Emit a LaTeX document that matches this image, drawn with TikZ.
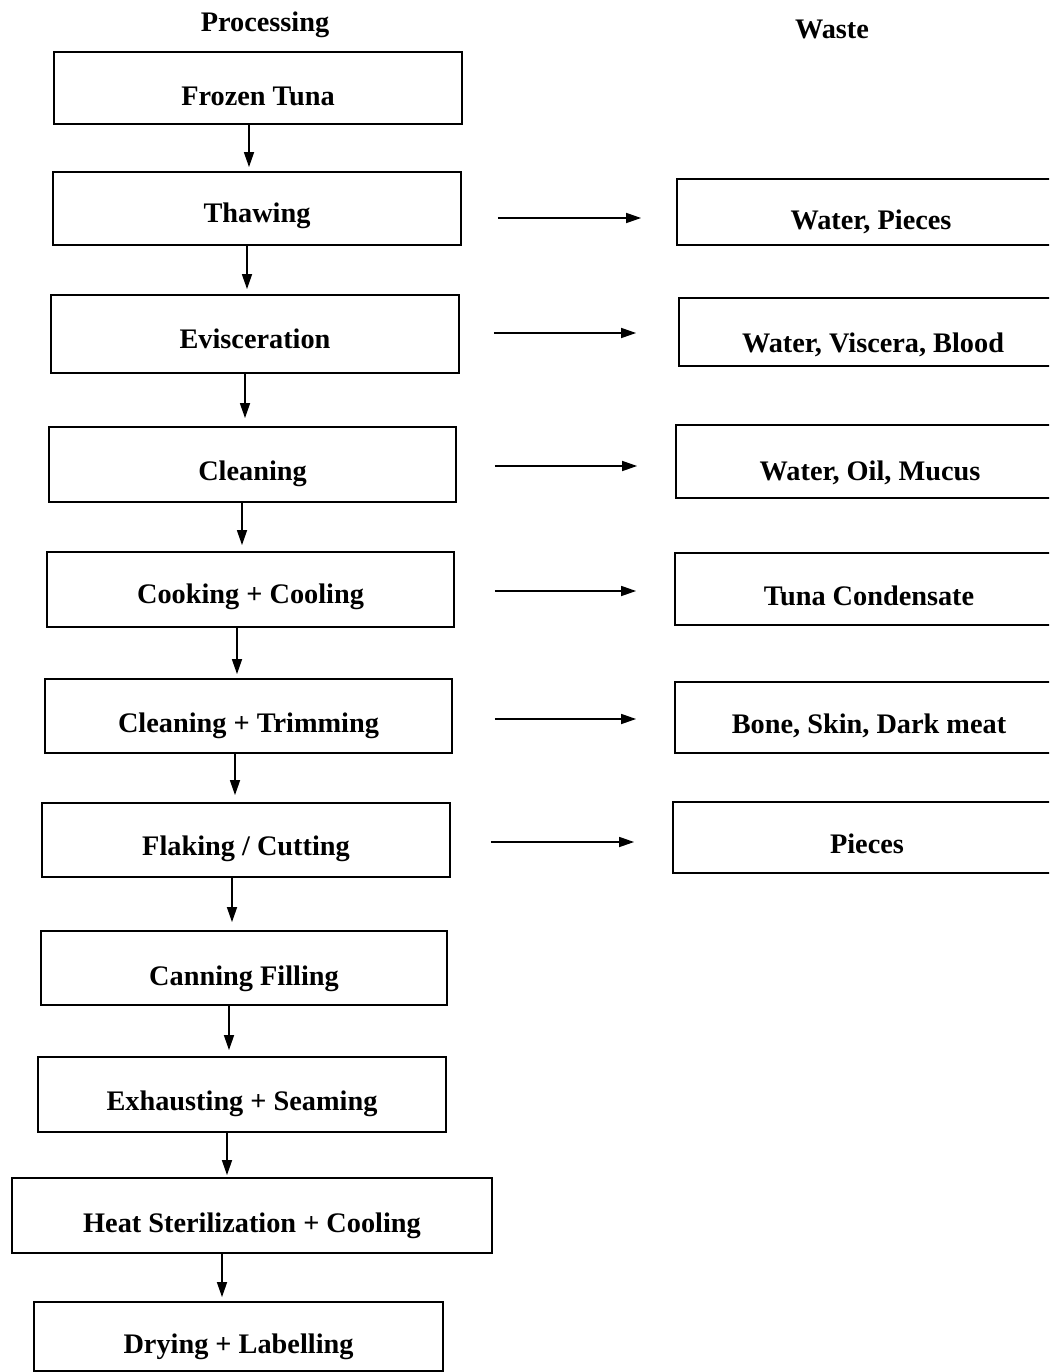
\documentclass[tikz,border=0pt]{standalone}
\usepackage{fontspec}
\setmainfont{Liberation Serif}
\usetikzlibrary{arrows.meta}
\begin{document}
\begin{tikzpicture}[x=1pt,y=-1pt,
  every node/.style={font=\fontsize{28.3}{30}\selectfont\bfseries},
  bx/.style n args={3}{draw=black, line width=1.8pt, inner xsep=0pt, inner ysep=0pt,
     anchor=base, minimum width=#1pt, text height=#2pt, text depth=#3pt},
  hdr/.style={anchor=base, inner sep=0pt},
  arr/.style={line width=1.6pt, -{Triangle[length=15pt,width=10pt]}}]
\useasboundingbox (0,0) rectangle (1049,1372);
\clip (0,0) rectangle (1049,1372);
% headers
\node[hdr] (hp) at (265,32) {Processing};
\node[hdr] (hw) at (832,39) {Waste};
% processing boxes
\node[bx={408}{54}{18}] (fz) at (258,106) {Frozen Tuna};
\node[bx={408}{51}{22}] (th) at (257,223) {Thawing};
\node[bx={408}{53}{25}] (ev) at (255,348) {Evisceration};
\node[bx={407}{53}{22}] (cl) at (252.5,480) {Cleaning};
\node[bx={407}{51}{24}] (co) at (250.5,603) {Cooking + Cooling};
\node[bx={407}{53}{21}] (ct) at (248.5,732) {Cleaning + Trimming};
\node[bx={408}{52}{22}] (fl) at (246,855) {Flaking / Cutting};
\node[bx={406}{54}{20}] (ca) at (244,985) {Canning Filling};
\node[bx={408}{53}{22}] (ex) at (242,1110) {Exhausting + Seaming};
\node[bx={480}{54}{21}] (he) at (252,1232) {Heat Sterilization + Cooling};
\node[bx={409}{51}{18}] (dr) at (238.5,1353) {Drying + Labelling};
% waste boxes
\node[bx={388}{51}{15}] (wp) at (871,230) {Water, Pieces};
\node[bx={388}{54}{14}] (wv) at (873,352) {Water, Viscera, Blood};
\node[bx={388}{55}{18}] (wo) at (870,480) {Water, Oil, Mucus};
\node[bx={388}{52}{20}] (tc) at (869,605) {Tuna Condensate};
\node[bx={388}{51}{20}] (bs) at (869,733) {Bone, Skin, Dark meat};
\node[bx={388}{51}{20}] (pc) at (867,853) {Pieces};
% vertical arrows
\draw[arr, shorten >=4pt] (fz.south -| 249,0) -- (th.north -| 249,0);
\draw[arr, shorten >=5pt] (th.south -| 247,0) -- (ev.north -| 247,0);
\draw[arr, shorten >=8pt] (ev.south -| 245,0) -- (cl.north -| 245,0);
\draw[arr, shorten >=6pt] (cl.south -| 242,0) -- (co.north -| 242,0);
\draw[arr, shorten >=4pt] (co.south -| 237,0) -- (ct.north -| 237,0);
\draw[arr, shorten >=7pt] (ct.south -| 235,0) -- (fl.north -| 235,0);
\draw[arr, shorten >=8pt] (fl.south -| 232,0) -- (ca.north -| 232,0);
\draw[arr, shorten >=6pt] (ca.south -| 229,0) -- (ex.north -| 229,0);
\draw[arr, shorten >=2pt] (ex.south -| 227,0) -- (he.north -| 227,0);
\draw[arr, shorten >=4pt] (he.south -| 222,0) -- (dr.north -| 222,0);
% horizontal arrows
\draw[arr, shorten <=36pt, shorten >=35pt] (th.east |- 0,218) -- (wp.west |- 0,218);
\draw[arr, shorten <=34pt, shorten >=42pt] (ev.east |- 0,333) -- (wv.west |- 0,333);
\draw[arr, shorten <=38pt, shorten >=38pt] (cl.east |- 0,466) -- (wo.west |- 0,466);
\draw[arr, shorten <=40pt, shorten >=38pt] (co.east |- 0,591) -- (tc.west |- 0,591);
\draw[arr, shorten <=42pt, shorten >=38pt] (ct.east |- 0,719) -- (bs.west |- 0,719);
\draw[arr, shorten <=40pt, shorten >=38pt] (fl.east |- 0,842) -- (pc.west |- 0,842);
\end{tikzpicture}
\end{document}
